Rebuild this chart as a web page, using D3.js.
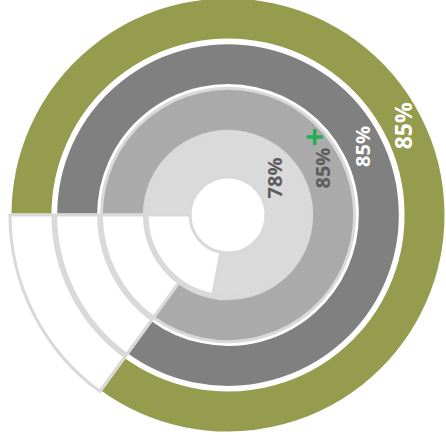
<!DOCTYPE html>
<html>
<head>
<meta charset="utf-8">
<script src="https://cdn.jsdelivr.net/npm/d3@7"></script>
<style>
  body { margin: 0; background: #fff; }
  svg { display: block; }
</style>
</head>
<body>
<div id="chart"></div>
<script>
// rings, outermost first
var rings = ["outer", "second", "third", "inner"]
var values = [85, 85, 85, 78]
var labels = ["85%", "85%", "85%", "78%"]

var fills = ["#969c4e", "#808080", "#aaaaaa", "#dadada"]
var edges = ["#ffffff", "#ffffff", "#d9d9d9", "#d9d9d9"]
var textColors = ["#ffffff", "#ffffff", "#5c5c5c", "#5c5c5c"]
var fontSizes = [23, 20, 20, 20]
var labelAngle = [63, 63, 63.5, 51.5]

var width = 446
var height = 441
var cx = 228, cy = 215

var svg = d3.select("#chart")
  .append("svg")
  .attr("width", width)
  .attr("height", height)

var g = svg.append("g")
  .attr("transform", `translate(${cx},${cy})`)

// radius per ring, inner ring closest to the hole
var r = d3.scaleBand()
  .domain(rings.slice().reverse())
  .range([38, 218])
  .paddingInner(0.06)

// start at 9 o'clock, clockwise
var angle = d3.scaleLinear()
  .domain([0, 100])
  .range([-Math.PI / 2, 1.5 * Math.PI])

var arc = d3.arc()
  .innerRadius(d => r(d.ring))
  .outerRadius(d => r(d.ring) + r.bandwidth())

var data = rings.map((ring, i) => ({ring: ring, value: values[i], i: i}))

// filled part
g.append("g")
  .selectAll("path")
  .data(data)
  .join("path")
    .attr("d", d => arc({ring: d.ring, startAngle: angle(0), endAngle: angle(d.value)}))
    .attr("fill", d => fills[d.i])
    .attr("stroke", d => edges[d.i])
    .attr("stroke-width", 3)

// empty remainder of each track
g.append("g")
  .selectAll("path")
  .data(data)
  .join("path")
    .attr("d", d => arc({ring: d.ring, startAngle: angle(d.value), endAngle: angle(100)}))
    .attr("fill", "#fff")
    .attr("stroke", "#d9d9d9")
    .attr("stroke-width", 3)

// labels, vertical
g.append("g")
  .selectAll("text")
  .data(data)
  .join("text")
    .attr("transform", function(d) {
      var a = labelAngle[d.i] * Math.PI / 180
      var rad = r(d.ring) + r.bandwidth() / 2
      return `translate(${rad * Math.sin(a)},${-rad * Math.cos(a)}) rotate(-90)`
    })
    .attr("text-anchor", "middle")
    .attr("dominant-baseline", "central")
    .attr("font-family", "'Open Sans', sans-serif")
    .attr("font-weight", 700)
    .attr("font-size", d => fontSizes[d.i])
    .attr("fill", d => textColors[d.i])
    .text(d => labels[d.i])

// green marker on the third ring
var pa = 48 * Math.PI / 180
var pr = r("third") + r.bandwidth() * 0.77
g.append("path")
  .attr("transform", `translate(${pr * Math.sin(pa)},${-pr * Math.cos(pa)})`)
  .attr("d", "M-8,0H8M0,-8V8")
  .attr("stroke", "#1fb14f")
  .attr("stroke-width", 3.5)
  .attr("fill", "none")
</script>
</body>
</html>
